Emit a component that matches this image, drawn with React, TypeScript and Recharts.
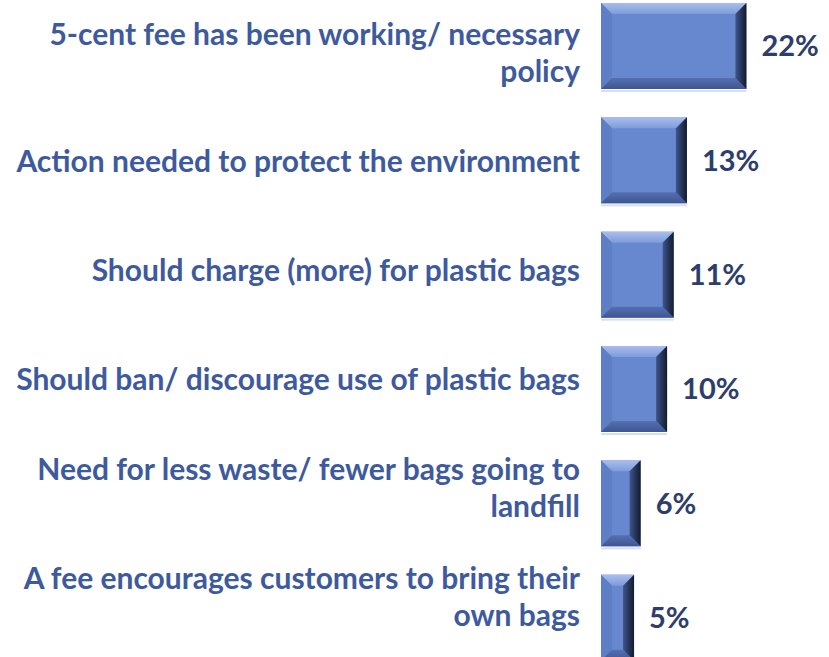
import React from 'react';
import { BarChart, Bar, XAxis, YAxis, LabelList } from 'recharts';

// reasons given, top to bottom ("\n" marks where the label wraps)
const categories = [
  '5-cent fee has been working/ necessary\npolicy',
  'Action needed to protect the environment',
  'Should charge (more) for plastic bags',
  'Should ban/ discourage use of plastic bags',
  'Need for less waste/ fewer bags going to\nlandfill',
  'A fee encourages customers to bring their\nown bags',
];
const shares = [22, 13, 11, 10, 6, 5];

const data = categories.map((name, i) => ({ name, value: shares[i] }));

const FONT = 'Lato, "Open Sans", sans-serif';
const LABEL_COLOR = '#3E5A9E';
const VALUE_COLOR = '#2D3E6D';

function CategoryTick(props: any) {
  const { y, payload, index } = props;
  const lines: string[] = String(payload.value).split('\n');
  const lineGap = 37;
  // text boxes sit on a slightly tighter pitch than the bars
  const cy = y + 5 - index * 5.4;
  const top = cy - ((lines.length - 1) * lineGap) / 2;
  return (
    <g>
      {lines.map((ln, i) => (
        <text
          key={i}
          x={580}
          y={top + i * lineGap}
          textAnchor="end"
          dominantBaseline="central"
          fill={LABEL_COLOR}
          fontFamily={FONT}
          fontWeight={700}
          fontSize={30}
        >
          {ln}
        </text>
      ))}
    </g>
  );
}

function BevelBar(props: any) {
  const { x, y, width: w, height: h } = props;
  if (!w || !h) return null;
  const b = Math.min(11, w / 3, h / 3);
  return (
    <g>
      <rect x={x} y={y + h + 1} width={w} height={2} fill="#D5DEF2" />
      <rect x={x} y={y} width={w} height={h} fill="#6787CE" />
      <polygon
        points={`${x},${y} ${x + w},${y} ${x + w - b},${y + b} ${x + b},${y + b}`}
        fill="url(#bevTop)"
      />
      <polygon
        points={`${x},${y} ${x + b},${y + b} ${x + b},${y + h - b} ${x},${y + h}`}
        fill="#5E7EC5"
      />
      <polygon
        points={`${x},${y + h} ${x + b},${y + h - b} ${x + w - b},${y + h - b} ${x + w},${y + h}`}
        fill="url(#bevBottom)"
      />
      <polygon
        points={`${x + w},${y} ${x + w - b},${y + b} ${x + w - b},${y + h - b} ${x + w},${y + h}`}
        fill="url(#bevRight)"
      />
    </g>
  );
}

export default function App() {
  return (
    <div
      style={{
        position: 'absolute',
        left: 0,
        top: 0,
        width: 829,
        height: 657,
        overflow: 'hidden',
        background: '#ffffff',
      }}
    >
      <div style={{ marginTop: -11 }}>
        <BarChart
          width={829}
          height={686}
          data={data}
          layout="vertical"
          margin={{ top: 0, right: 0, bottom: 0, left: 0 }}
        >
          <defs>
            <linearGradient id="bevTop" x1="0" y1="0" x2="0" y2="1">
              <stop offset="0%" stopColor="#A9BEEC" />
              <stop offset="100%" stopColor="#7E9BDB" />
            </linearGradient>
            <linearGradient id="bevBottom" x1="0" y1="0" x2="0" y2="1">
              <stop offset="0%" stopColor="#5470B3" />
              <stop offset="100%" stopColor="#3F5591" />
            </linearGradient>
            <linearGradient id="bevRight" x1="0" y1="0" x2="1" y2="0">
              <stop offset="0%" stopColor="#40558E" />
              <stop offset="60%" stopColor="#243153" />
              <stop offset="100%" stopColor="#131B2C" />
            </linearGradient>
          </defs>
          <XAxis type="number" domain={[0, 34.5]} hide />
          <YAxis
            type="category"
            dataKey="name"
            width={601}
            axisLine={false}
            tickLine={false}
            interval={0}
            tick={<CategoryTick />}
          />
          <Bar
            dataKey="value"
            barSize={86}
            shape={<BevelBar />}
            isAnimationActive={false}
          >
            <LabelList
              dataKey="value"
              position="right"
              offset={15}
              formatter={(v: any) => `${v}%`}
              fill={VALUE_COLOR}
              fontFamily={FONT}
              fontWeight={700}
              fontSize={29}
            />
          </Bar>
        </BarChart>
      </div>
    </div>
  );
}
